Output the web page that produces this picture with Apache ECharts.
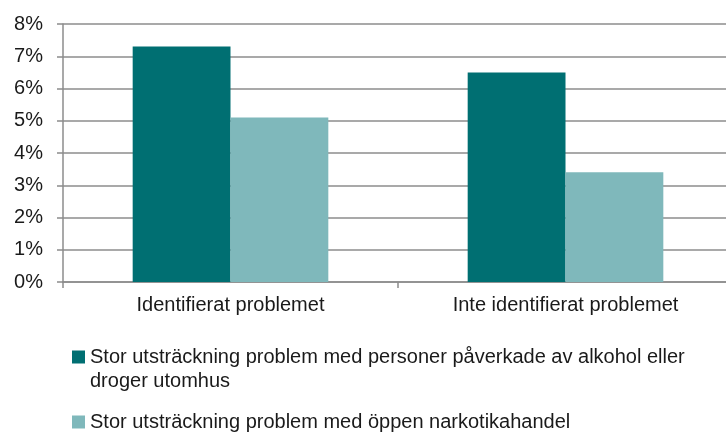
<!DOCTYPE html>
<html>
<head>
<meta charset="utf-8">
<script src="https://cdn.jsdelivr.net/npm/echarts@6/dist/echarts.min.js"></script>
<style>
  html, body { margin: 0; padding: 0; background: #fff; }
  #chart { width: 726px; height: 434px; }
</style>
</head>
<body>
<div id="chart"></div>
<script>
// data
const categories = ["Identifierat problemet", "Inte identifierat problemet"]
const seriesNames = [
  "Stor utsträckning problem med personer påverkade av alkohol eller droger utomhus",
  "Stor utsträckning problem med öppen narkotikahandel"
]
const alkoholDroger = [7.3, 6.5]
const narkotikahandel = [5.1, 3.4]
const yTicks = [0, 1, 2, 3, 4, 5, 6, 7, 8]

const font = "'Liberation Sans', Arial, sans-serif"
const darkTeal = "#006f72"
const lightTeal = "#7fb8bb"
const axisGray = "#8c8c8c"

const chart = echarts.init(document.getElementById("chart"))
const option = {
  animation: false,
  textStyle: { fontFamily: font },
  grid: {
    left: 63,
    top: 24,
    width: 670,
    height: 258,
    outerBoundsMode: "none"
  },
  xAxis: {
    type: "category",
    data: categories,
    axisLine: { lineStyle: { color: axisGray, width: 1.5 } },
    axisTick: { show: true, length: 6, lineStyle: { color: axisGray, width: 1.5 } },
    axisLabel: { color: "#1a1a1a", fontSize: 20, margin: 13, fontFamily: font }
  },
  yAxis: {
    type: "value",
    min: yTicks[0],
    max: yTicks[yTicks.length - 1],
    interval: 1,
    axisLine: { show: true, lineStyle: { color: axisGray, width: 1.5 } },
    axisTick: { show: true, length: 6, lineStyle: { color: axisGray, width: 1.5 } },
    axisLabel: {
      color: "#1a1a1a",
      fontSize: 20,
      margin: 20,
      fontFamily: font,
      formatter: v => v + "%"
    },
    splitLine: { lineStyle: { color: axisGray, width: 1.5 } }
  },
  legend: [
    {
      data: [seriesNames[0]],
      left: 72,
      top: 321,
      padding: 0,
      icon: "rect",
      itemWidth: 13,
      itemHeight: 13,
      // blank first line so the icon lines up with the first text line
      formatter: n => " \nStor utsträckning problem med personer påverkade av alkohol eller\ndroger utomhus",
      textStyle: { color: "#1a1a1a", fontSize: 20, lineHeight: 24, fontFamily: font }
    },
    {
      data: [seriesNames[1]],
      left: 72,
      top: 410,
      padding: 0,
      icon: "rect",
      itemWidth: 13,
      itemHeight: 13,
      textStyle: { color: "#1a1a1a", fontSize: 20, lineHeight: 24, fontFamily: font }
    }
  ],
  series: [
    {
      name: seriesNames[0],
      type: "bar",
      data: alkoholDroger,
      barWidth: "29.2%",
      barGap: "0%",
      itemStyle: { color: darkTeal }
    },
    {
      name: seriesNames[1],
      type: "bar",
      data: narkotikahandel,
      barWidth: "29.2%",
      barGap: "0%",
      itemStyle: { color: lightTeal }
    }
  ]
}
chart.setOption(option)
</script>
</body>
</html>
